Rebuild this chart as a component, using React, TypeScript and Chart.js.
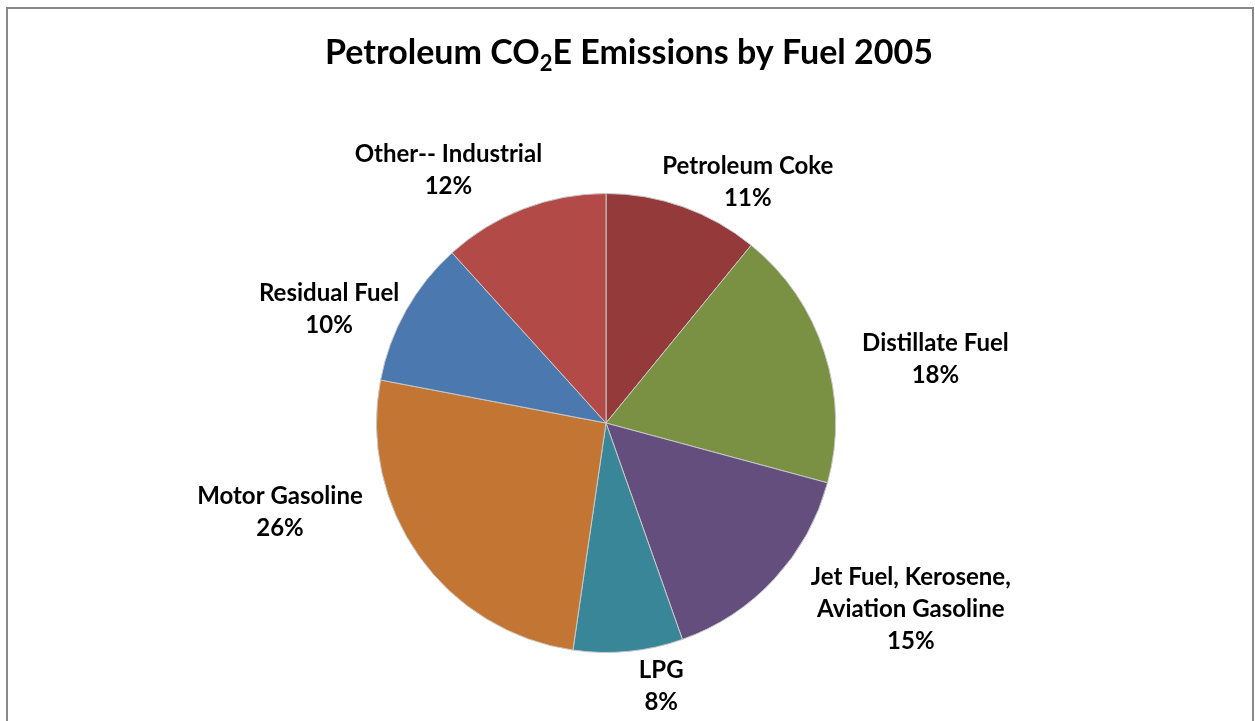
import React, { useEffect, useRef } from "react";
import { Chart, registerables } from "chart.js";

Chart.register(...registerables);

const categories = [
  "Petroleum Coke",
  "Distillate Fuel",
  "Jet Fuel, Kerosene, Aviation Gasoline",
  "LPG",
  "Motor Gasoline",
  "Residual Fuel",
  "Other-- Industrial",
];
const labelLines = [
  ["Petroleum Coke"],
  ["Distillate Fuel"],
  ["Jet Fuel, Kerosene,", "Aviation Gasoline"],
  ["LPG"],
  ["Motor Gasoline"],
  ["Residual Fuel"],
  ["Other-- Industrial"],
];
const shares = [10.9, 18.3, 15.4, 7.7, 25.7, 10.3, 11.7];
const sliceColors = ["#953A3A", "#7A9143", "#634E7E", "#3A8699", "#C37634", "#4A78AF", "#B24A48"];
const titleParts = ["Petroleum CO", "2", "E Emissions by Fuel 2005"];
// label layout nudges (px) applied after the outside-end placement (Excel best-fit look)
const labelNudge = [
  [30, 23],
  [24, 22],
  [50, -15],
  [29, -15],
  [-57, -73],
  [0, 23],
  [-35, 8],
];

const FONT = "Lato, 'Open Sans', sans-serif";

const titlePlugin = {
  id: "subTitle",
  afterDraw(chart: any) {
    const ctx = chart.ctx;
    ctx.save();
    const big = `bold 34px ${FONT}`;
    const small = `bold 22px ${FONT}`;
    ctx.font = big;
    const w0 = ctx.measureText(titleParts[0]).width;
    const w2 = ctx.measureText(titleParts[2]).width;
    ctx.font = small;
    const w1 = ctx.measureText(titleParts[1]).width;
    const total = w0 + w1 + w2;
    let x = 629 - total / 2;
    const base = 64;
    ctx.fillStyle = "#000";
    ctx.textBaseline = "alphabetic";
    ctx.textAlign = "left";
    ctx.font = big;
    ctx.fillText(titleParts[0], x, base);
    x += w0;
    ctx.font = small;
    ctx.fillText(titleParts[1], x, base + 7);
    x += w1;
    ctx.font = big;
    ctx.fillText(titleParts[2], x, base);
    ctx.restore();
  },
};

const labelPlugin = {
  id: "outsideLabels",
  afterDatasetsDraw(chart: any) {
    const ctx = chart.ctx;
    const meta = chart.getDatasetMeta(0);
    const data = chart.data.datasets[0].data as number[];
    const total = data.reduce((a, b) => a + b, 0);
    ctx.save();
    ctx.font = `bold 24px ${FONT}`;
    ctx.fillStyle = "#000";
    ctx.textAlign = "center";
    ctx.textBaseline = "middle";
    const lineH = 32;
    const gap = 18;
    meta.data.forEach((arc: any, i: number) => {
      const { x, y, startAngle, endAngle, outerRadius } = arc.getProps(
        ["x", "y", "startAngle", "endAngle", "outerRadius"],
        true
      );
      const mid = (startAngle + endAngle) / 2;
      const ux = Math.cos(mid);
      const uy = Math.sin(mid);
      const lines = [...labelLines[i], `${Math.round((data[i] / total) * 100)}%`];
      const w = Math.max(...lines.map((l) => ctx.measureText(l).width));
      const h = lines.length * lineH;
      const cx = x + ux * (outerRadius + gap) + (ux * w) / 2 + labelNudge[i][0];
      const cy = y + uy * (outerRadius + gap) + (uy * h) / 2 + labelNudge[i][1];
      lines.forEach((l, k) => {
        ctx.fillText(l, cx, cy - h / 2 + lineH * (k + 0.5));
      });
    });
    ctx.restore();
  },
};

export default function App() {
  const ref = useRef<HTMLCanvasElement | null>(null);
  useEffect(() => {
    if (!ref.current) return;
    const chart = new Chart(ref.current, {
      type: "pie",
      data: {
        labels: categories,
        datasets: [
          {
            data: shares,
            backgroundColor: sliceColors,
            borderColor: "#c8c8c8",
            borderWidth: 1,
          },
        ],
      },
      options: {
        responsive: false,
        animation: false,
        devicePixelRatio: 1,
        layout: { padding: { left: 376, right: 419, top: 193, bottom: 68 } },
        plugins: {
          legend: { display: false },
          title: { display: false },
          tooltip: { enabled: false },
        },
      },
      plugins: [titlePlugin, labelPlugin],
    });
    return () => chart.destroy();
  }, []);
  return (
    <div style={{ position: "fixed", left: 0, top: 0, width: 1255, height: 721, background: "#fff", overflow: "hidden" }}>
      <div
        style={{
          position: "absolute",
          left: 6,
          top: 7,
          width: 1248,
          height: 800,
          border: "2px solid #898989",
          boxSizing: "border-box",
        }}
      />
      <canvas ref={ref} width={1255} height={721} style={{ position: "absolute", left: 0, top: 0 }} />
    </div>
  );
}
